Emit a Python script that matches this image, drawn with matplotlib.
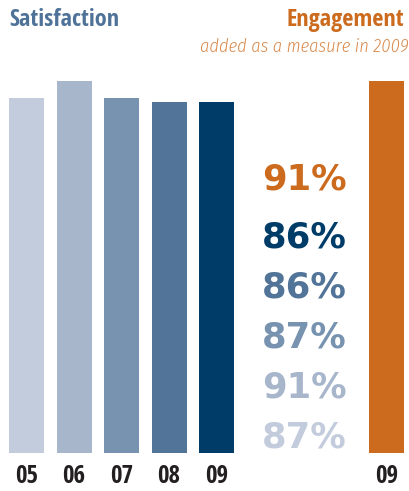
import matplotlib
matplotlib.use("Agg")
import matplotlib.pyplot as plt

years = ["05", "06", "07", "08", "09"]
satisfaction = [87, 91, 87, 86, 86]
engagement_year = "09"
engagement = 91

sat_colors = ["#c3ccdc", "#a8b6cc", "#7793b0", "#527498", "#003c68"]
eng_color = "#cc6a1e"
title_blue = "#4f7298"
label_color = "#231f20"

narrow = ["Open Sans Condensed", "DejaVu Sans"]
narrow_it = ["Fira Sans Condensed", "DejaVu Sans"]

W, H = 409, 491
fig = plt.figure(figsize=(W / 100, H / 100), dpi=100)
fig.patch.set_facecolor("white")

# bar axes: baseline at y=453px from top, 47.5px per slot, first bar centred at 26.5px
slot = 47.5
x0 = 26.5
ax = fig.add_axes([0, 38 / H, 1, 410 / H])
ax.set_xlim(-x0 / slot, (W - x0) / slot)
ax.set_ylim(2.4, 100)

xs = list(range(len(years)))
ax.bar(xs, satisfaction, width=35 / slot, color=sat_colors)
eng_x = (386.5 - x0) / slot
ax.bar([eng_x], [engagement], width=35 / slot, color=eng_color)

ax.set_xticks(xs + [eng_x])
ax.set_xticklabels(years + [engagement_year], fontsize=18, fontweight="bold",
                   color=label_color, family=narrow)
ax.tick_params(axis="x", length=0, pad=8)
ax.set_yticks([])
for s in ax.spines.values():
    s.set_visible(False)
ax.patch.set_alpha(0)

# titles
fig.text(9 / W, 1 - 20 / H, "Satisfaction", ha="left", va="center",
         fontsize=17.5, fontweight="bold", color=title_blue, family=narrow)
fig.text(404 / W, 1 - 20 / H, "Engagement", ha="right", va="center",
         fontsize=17.5, fontweight="bold", color=eng_color, family=narrow)
fig.text(409 / W, 1 - 47 / H, "added as a measure in 2009", ha="right", va="center",
         fontsize=13.2, fontweight=300, style="italic", color="#d98a4c", family=narrow_it)

# percentage column: engagement first, then satisfaction from latest to earliest
pct_vals = [engagement] + satisfaction[::-1]
pct_cols = [eng_color] + sat_colors[::-1]
pct_y = [180, 237, 288, 338, 388, 438]
for v, c, yp in zip(pct_vals, pct_cols, pct_y):
    fig.text(304 / W, 1 - yp / H, f"{v}%", ha="center", va="center",
             fontsize=25.5, fontweight="bold", color=c, family="DejaVu Sans")

fig.savefig("out.png", dpi=100)
